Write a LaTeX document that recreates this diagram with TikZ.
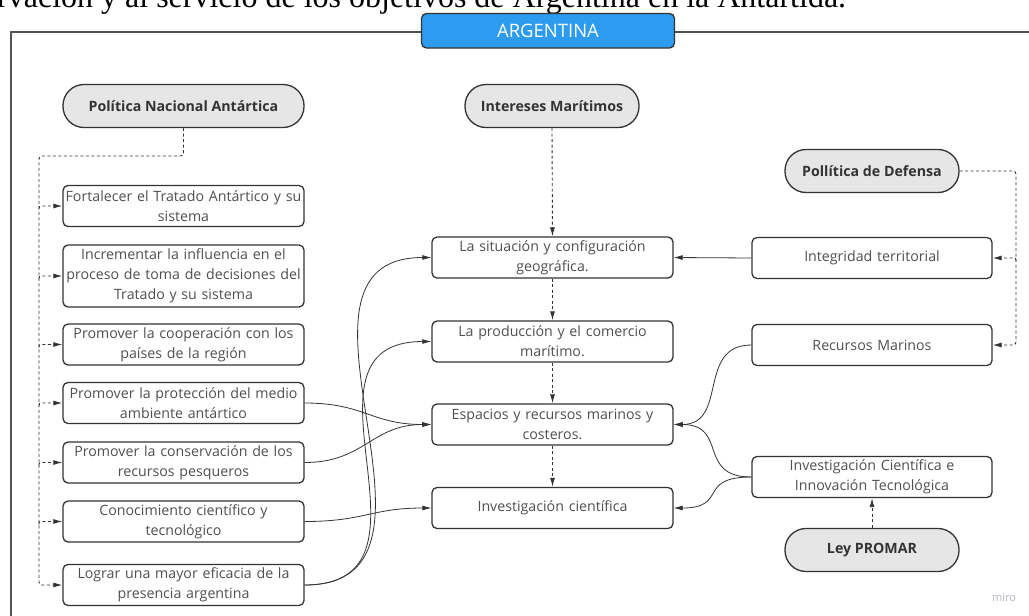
\documentclass[tikz,border=0pt]{standalone}
\usepackage{fontspec}
\setmainfont{Open Sans}
\newfontfamily\timesfont{Liberation Serif}
\usetikzlibrary{arrows.meta}
\definecolor{argblue}{RGB}{45,155,240}
\definecolor{edge}{RGB}{51,51,51}
\definecolor{txt}{RGB}{80,80,80}
\definecolor{pillfill}{RGB}{230,230,230}
\definecolor{mirogray}{RGB}{180,180,192}
\begin{document}
\begin{tikzpicture}[x=1pt,y=-1pt,
  box/.style={draw=edge, line width=1.3pt, rounded corners=5pt, fill=white, text=txt,
    font=\fontsize{14.2}{20}\selectfont, align=center, inner sep=0pt,
    minimum height=41pt},
  pill/.style={draw=edge, line width=1.3pt, rounded corners=21pt, fill=pillfill, text=edge,
    font=\bfseries\fontsize{14.2}{16}\selectfont, inner sep=0pt, minimum height=43pt},
  tip/.style={-{Latex[length=9pt,width=5pt]}},
  dashline/.style={draw=edge, line width=0.9pt, dash pattern=on 3pt off 2.5pt},
  conn/.style={draw=edge, line width=0.8pt, tip},
]
\useasboundingbox (0,0) rectangle (1029,616);
\clip (0,0) rectangle (1029,616);

% page text above
\node[anchor=base west, inner sep=0pt, font=\timesfont\fontsize{32}{36}\selectfont] (title) at (-3,7.5)
  {rvación y al servicio de los objetivos de Argentina en la Antártida.};

% frame
\draw[draw=edge!85, line width=1.8pt] (11,660) -- (11,32) -- (1060,32);
\node[draw=edge, line width=1.3pt, fill=argblue, rounded corners=5pt, text=white,
  minimum width=253pt, minimum height=34.5pt, inner sep=0pt,
  font=\fontsize{18.5}{20}\selectfont] (arg) at (548,30.75) {ARGENTINA};

% pills
\node[pill, minimum width=241pt] (pna) at (183.5,106) {Política Nacional Antártica};
\node[pill, minimum width=174pt] (im) at (552,106) {Intereses Marítimos};
\node[pill, minimum width=174pt] (pd) at (872,171) {Pollítica de Defensa};
\node[pill, minimum width=174pt] (lp) at (872,550) {Ley PROMAR};

% left column
\node[box, text width=241pt] (b1) at (183.5,206) {Fortalecer el Tratado Antártico y su\\sistema};
\node[box, text width=241pt, minimum height=62pt] (b2) at (183.5,276) {Incrementar la influencia en el\\proceso de toma de decisiones del\\Tratado y su sistema};
\node[box, text width=241pt] (b3) at (183.5,344.5) {Promover la cooperación con los\\países de la región};
\node[box, text width=241pt] (b4) at (183.5,403) {Promover la protección del medio\\ambiente antártico};
\node[box, text width=241pt] (b5) at (183.5,462.5) {Promover la conservación de los\\recursos pesqueros};
\node[box, text width=241pt] (b6) at (183.5,521.5) {Conocimiento científico y\\tecnológico};
\node[box, text width=241pt] (b7) at (183.5,585) {Lograr una mayor eficacia de la\\presencia argentina};

% middle column
\node[box, text width=241pt] (m1) at (552.5,257.5) {La situación y configuración\\geográfica.};
\node[box, text width=241pt] (m2) at (552.5,341.5) {La producción y el comercio\\marítimo.};
\node[box, text width=241pt] (m3) at (552.5,424.5) {Espacios y recursos marinos y\\costeros.};
\node[box, text width=241pt] (m4) at (552.5,508) {Investigación científica};

% right column
\node[box, text width=240pt] (it) at (872,258) {Integridad territorial};
\node[box, text width=240pt] (rm) at (872,345) {Recursos Marinos};
\node[box, text width=240pt] (ic) at (872,477) {Investigación Científica e\\Innovación Tecnológica};

% left dashed tree
\coordinate (sp) at (39,156);
\draw[dashline, tip, rounded corners=3pt] (pna.south) -- (pna.south |- sp) -- (sp) -- (sp |- b7.west) -- (b7.west);
\foreach \b in {b1,b2,b3,b4,b5,b6}{
  \draw[dashline, tip, rounded corners=2pt] ([yshift=-3pt]sp |- \b.west) -- (sp |- \b.west) -- (\b.west);
}

% middle dashed chain
\draw[dashline, tip] (im.south) -- (m1.north);
\draw[dashline, tip] (m1.south) -- (m2.north);
\draw[dashline, tip] (m2.south) -- (m3.north);
\draw[dashline, tip] (m3.south) -- (m4.north);

% right dashed tree
\coordinate (rs) at (1016,171);
\draw[dashline, tip, rounded corners=3pt] (pd.east) -- (rs) -- (rs |- rm.east) -- (rm.east);
\draw[dashline, tip, rounded corners=2pt] ([yshift=-3pt]rs |- it.east) -- (rs |- it.east) -- (it.east);
\draw[dashline, tip] (lp.north) -- (ic.south);

% solid connectors
\draw[conn] (it.west) -- (m1.east);
\draw[conn] (rm.west) .. controls +(-55,0) and +(55,0) .. (m3.east);
\draw[conn] (ic.west) .. controls +(-55,0) and +(55,0) .. (m3.east);
\draw[conn] (ic.west) .. controls +(-55,0) and +(55,0) .. (m4.east);
\draw[conn] (b4.east) .. controls +(60,0) and +(-60,0) .. (m3.west);
\draw[conn] (b5.east) .. controls +(60,0) and +(-60,0) .. (m3.west);
\draw[conn] (b6.east) .. controls +(60,0) and +(-60,0) .. (m4.west);
\draw[conn] (b7.east) .. controls +(172,0) and +(-172,0) .. (m1.west);
\draw[conn] (b7.east) .. controls +(150,0) and +(-150,0) .. (m2.west);

% watermark
\node[text=mirogray, font=\fontsize{11}{12}\selectfont, inner sep=0pt] (miro) at (1004,598) {miro};
\end{tikzpicture}
\end{document}
